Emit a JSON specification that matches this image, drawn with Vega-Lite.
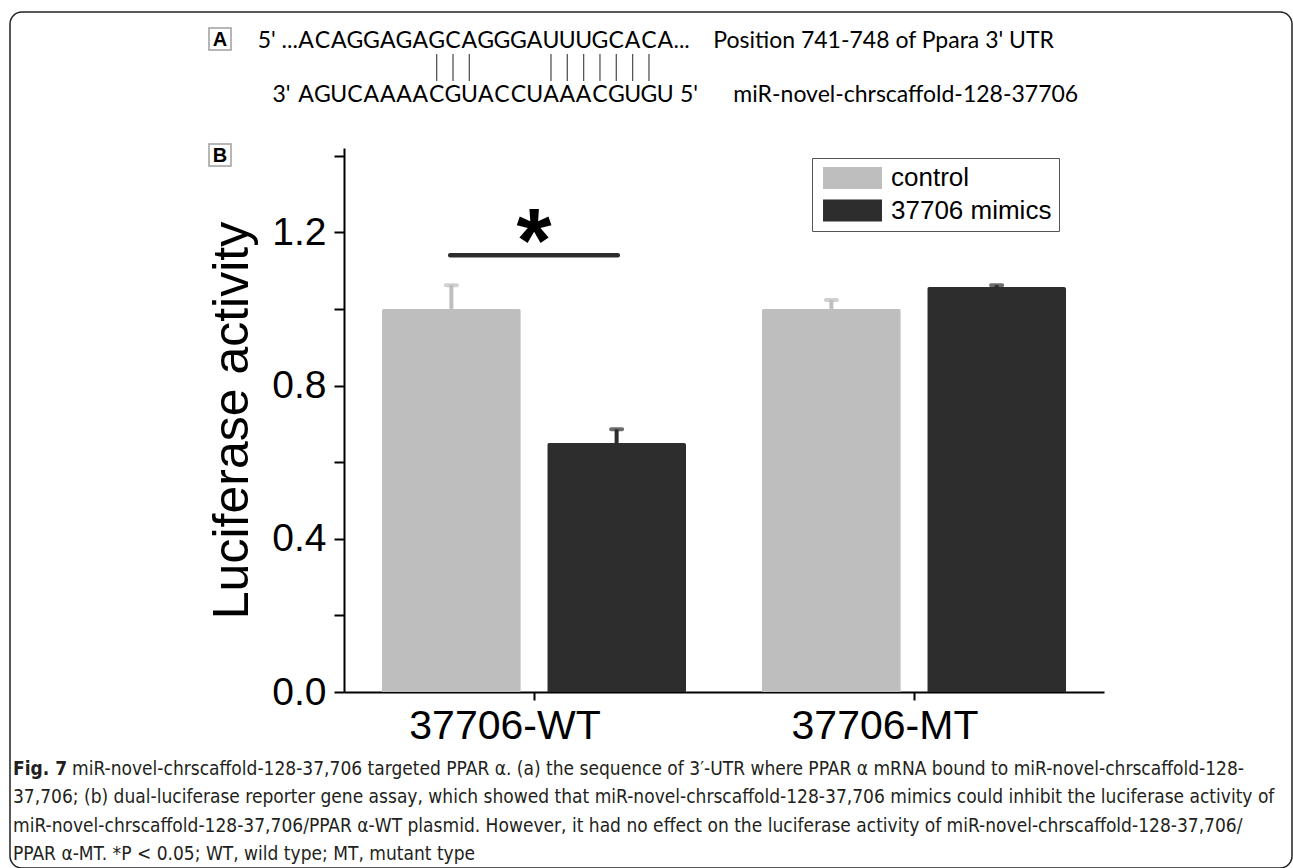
{
  "$schema": "https://vega.github.io/schema/vega-lite/v6.json",
  "background": "white",
  "padding": {"left": 9, "top": 11, "right": 0, "bottom": 0},
  "spacing": 0,
  "bounds": "flush",
  "config": {"view": {"stroke": null}, "font": "Liberation Sans"},
  "datasets": {
    "seq": [
      {"row": 1, "pos": 1, "base": "A"}, {"row": 1, "pos": 2, "base": "C"}, {"row": 1, "pos": 3, "base": "A"}, {"row": 1, "pos": 4, "base": "G"},
      {"row": 1, "pos": 5, "base": "G"}, {"row": 1, "pos": 6, "base": "A"}, {"row": 1, "pos": 7, "base": "G"}, {"row": 1, "pos": 8, "base": "A"},
      {"row": 1, "pos": 9, "base": "G"}, {"row": 1, "pos": 10, "base": "C"}, {"row": 1, "pos": 11, "base": "A"}, {"row": 1, "pos": 12, "base": "G"},
      {"row": 1, "pos": 13, "base": "G"}, {"row": 1, "pos": 14, "base": "G"}, {"row": 1, "pos": 15, "base": "A"}, {"row": 1, "pos": 16, "base": "U"},
      {"row": 1, "pos": 17, "base": "U"}, {"row": 1, "pos": 18, "base": "U"}, {"row": 1, "pos": 19, "base": "G"}, {"row": 1, "pos": 20, "base": "C"},
      {"row": 1, "pos": 21, "base": "A"}, {"row": 1, "pos": 22, "base": "C"}, {"row": 1, "pos": 23, "base": "A"},
      {"row": 3, "pos": 1, "base": "A"}, {"row": 3, "pos": 2, "base": "G"}, {"row": 3, "pos": 3, "base": "U"}, {"row": 3, "pos": 4, "base": "C"},
      {"row": 3, "pos": 5, "base": "A"}, {"row": 3, "pos": 6, "base": "A"}, {"row": 3, "pos": 7, "base": "A"}, {"row": 3, "pos": 8, "base": "A"},
      {"row": 3, "pos": 9, "base": "C"}, {"row": 3, "pos": 10, "base": "G"}, {"row": 3, "pos": 11, "base": "U"}, {"row": 3, "pos": 12, "base": "A"},
      {"row": 3, "pos": 13, "base": "C"}, {"row": 3, "pos": 14, "base": "C"}, {"row": 3, "pos": 15, "base": "U"}, {"row": 3, "pos": 16, "base": "A"},
      {"row": 3, "pos": 17, "base": "A"}, {"row": 3, "pos": 18, "base": "A"}, {"row": 3, "pos": 19, "base": "C"}, {"row": 3, "pos": 20, "base": "G"},
      {"row": 3, "pos": 21, "base": "U"}, {"row": 3, "pos": 22, "base": "G"}, {"row": 3, "pos": 23, "base": "U"}
    ],
    "flank": [
      {"row": 1, "side": "left", "text": "5' ..."},
      {"row": 1, "side": "right", "text": "...\u00a0\u00a0\u00a0\u00a0Position 741-748 of Ppara 3' UTR"},
      {"row": 3, "side": "left", "text": "3'"},
      {"row": 3, "side": "right", "text": "5'\u00a0\u00a0\u00a0\u00a0\u00a0\u00a0miR-novel-chrscaffold-128-37706"}
    ],
    "pairs": [
      {"pos": 9}, {"pos": 10}, {"pos": 11}, {"pos": 16}, {"pos": 17}, {"pos": 18}, {"pos": 19}, {"pos": 20}, {"pos": 21}, {"pos": 22}
    ],
    "bars": [
      {"group": "37706-WT", "treatment": "control", "value": 1.0, "upper": 1.062},
      {"group": "37706-WT", "treatment": "37706 mimics", "value": 0.65, "upper": 0.686},
      {"group": "37706-MT", "treatment": "control", "value": 1.0, "upper": 1.023},
      {"group": "37706-MT", "treatment": "37706 mimics", "value": 1.057, "upper": 1.062}
    ],
    "sig": [
      {"group": "37706-WT", "y": 1.14, "label": "*"}
    ],
    "caption": [
      {"line": 1, "lead": "Fig. 7", "text": "miR-novel-chrscaffold-128-37,706 targeted PPAR α. (a) the sequence of 3′-UTR where PPAR α mRNA bound to miR-novel-chrscaffold-128-"},
      {"line": 2, "text": "37,706; (b) dual-luciferase reporter gene assay, which showed that miR-novel-chrscaffold-128-37,706 mimics could inhibit the luciferase activity of"},
      {"line": 3, "text": "miR-novel-chrscaffold-128-37,706/PPAR α-WT plasmid. However, it had no effect on the luciferase activity of miR-novel-chrscaffold-128-37,706/"},
      {"line": 4, "text": "PPAR α-MT. *P < 0.05; WT, wild type; MT, mutant type"}
    ]
  },
  "vconcat": [
    {
      "hconcat": [
        {
          "width": 1282,
          "height": 856,
          "view": {"stroke": "#222222", "strokeWidth": 1.5, "cornerRadius": 12},
          "data": {"values": [{}]},
          "mark": {"type": "text"},
          "encoding": {"text": {"value": ""}}
        }
      ],
      "bounds": "flush"
    },
    {
      "width": 1270,
      "height": 136,
      "layer": [
        {
          "data": {"name": "seq"},
          "mark": {"type": "text", "font": "Lato", "fontSize": 23, "baseline": "middle", "align": "center", "color": "black", "clip": false},
          "encoding": {
            "x": {"field": "pos", "type": "quantitative", "scale": {"domain": [-17.128, 60.643], "nice": false, "zero": false}, "axis": null},
            "y": {"field": "row", "type": "quantitative", "scale": {"domain": [-0.0556, 4.9815], "nice": false, "zero": false, "reverse": true}, "axis": null},
            "text": {"field": "base"}
          }
        },
        {
          "data": {"name": "flank"},
          "transform": [{"filter": "datum.side == 'left' && datum.row == 1"}],
          "mark": {"type": "text", "font": "Lato", "fontSize": 23, "baseline": "middle", "align": "right", "color": "black", "clip": false},
          "encoding": {
            "x": {"datum": 0.5, "type": "quantitative"},
            "y": {"field": "row", "type": "quantitative"},
            "text": {"field": "text"}
          }
        },
        {
          "data": {"name": "flank"},
          "transform": [{"filter": "datum.side == 'left' && datum.row == 3"}],
          "mark": {"type": "text", "font": "Lato", "fontSize": 23, "baseline": "middle", "align": "right", "color": "black", "clip": false},
          "encoding": {
            "x": {"datum": 0.05, "type": "quantitative"},
            "y": {"field": "row", "type": "quantitative"},
            "text": {"field": "text"}
          }
        },
        {
          "data": {"name": "flank"},
          "transform": [{"filter": "datum.side == 'right' && datum.row == 1"}],
          "mark": {"type": "text", "font": "Lato", "fontSize": 23, "baseline": "middle", "align": "left", "color": "black", "clip": false},
          "encoding": {
            "x": {"datum": 23.5, "type": "quantitative"},
            "y": {"field": "row", "type": "quantitative"},
            "text": {"field": "text"}
          }
        },
        {
          "data": {"name": "flank"},
          "transform": [{"filter": "datum.side == 'right' && datum.row == 3"}],
          "mark": {"type": "text", "font": "Lato", "fontSize": 23, "baseline": "middle", "align": "left", "color": "black", "clip": false},
          "encoding": {
            "x": {"datum": 23.9, "type": "quantitative"},
            "y": {"field": "row", "type": "quantitative"},
            "text": {"field": "text"}
          }
        },
        {
          "data": {"name": "pairs"},
          "mark": {"type": "rule", "color": "#555555", "strokeWidth": 1.3, "clip": false},
          "encoding": {
            "x": {"field": "pos", "type": "quantitative"},
            "y": {"datum": 1.5, "type": "quantitative"},
            "y2": {"datum": 2.5}
          }
        },
        {
          "data": {"values": [{"panel": "A", "row": 0.944}, {"panel": "B", "row": 5.24}]},
          "mark": {"type": "point", "shape": "square", "size": 484, "filled": false, "stroke": "#777777", "strokeWidth": 1.5, "clip": false},
          "encoding": {
            "x": {"datum": -4.268, "type": "quantitative"},
            "y": {"field": "row", "type": "quantitative"}
          }
        },
        {
          "data": {"values": [{"panel": "A", "row": 0.944}, {"panel": "B", "row": 5.24}]},
          "mark": {"type": "text", "font": "Liberation Sans", "fontWeight": "bold", "fontSize": 20, "baseline": "middle", "align": "center", "dy": 1, "color": "black", "clip": false},
          "encoding": {
            "x": {"datum": -4.268, "type": "quantitative"},
            "y": {"field": "row", "type": "quantitative"},
            "text": {"field": "panel"}
          }
        }
      ]
    },
    {
      "hconcat": [
        {
          "width": 334,
          "height": 544,
          "data": {"values": [{}]},
          "mark": {"type": "text"},
          "encoding": {"text": {"value": ""}}
        },
        {
          "width": 760,
          "height": 544,
          "layer": [
            {
              "data": {"name": "bars"},
              "mark": {"type": "bar", "cornerRadiusTopLeft": 2, "cornerRadiusTopRight": 2},
              "encoding": {
                "x": {
                  "field": "group", "type": "nominal", "sort": ["37706-WT", "37706-MT"],
                  "scale": {"domain": ["37706-WT", "37706-MT"], "paddingInner": 0.2, "paddingOuter": 0.1},
                  "axis": {
                    "title": null, "labelAngle": 0, "labelFont": "Liberation Sans", "labelFontSize": 41, "labelColor": "black", "labelLimit": 500, "labelOffset": -29,
                    "labelPadding": 6, "tickSize": 8, "tickWidth": 2, "tickColor": "black", "domainWidth": 2, "domainColor": "black", "grid": false
                  }
                },
                "xOffset": {"field": "treatment", "type": "nominal", "scale": {"domain": ["control", "37706 mimics"], "paddingInner": 0.16, "paddingOuter": 0}},
                "y": {
                  "field": "value", "type": "quantitative",
                  "scale": {"domain": [0, 1.42], "nice": false, "zero": true},
                  "axis": {
                    "title": "Luciferase activity", "titleFont": "Liberation Sans", "titleFontSize": 50, "titleFontWeight": "normal", "titleColor": "black", "titlePadding": 14,
                    "values": [0, 0.2, 0.4, 0.6, 0.8, 1.0, 1.2, 1.4],
                    "labelExpr": "round(datum.value*5) % 2 == 0 ? format(datum.value, '.1f') : ''",
                    "labelFont": "Liberation Sans", "labelFontSize": 39, "labelColor": "black", "labelPadding": 8,
                    "tickSize": 10, "tickWidth": 2, "tickColor": "black", "domainWidth": 2, "domainColor": "black", "grid": false,
                    "encode": {"ticks": {"update": {"x2": {"signal": "round(datum.value*5) % 2 == 0 ? -10 : -6.5"}}}}
                  }
                },
                "color": {
                  "field": "treatment", "type": "nominal",
                  "scale": {"domain": ["control", "37706 mimics"], "range": ["#bebebe", "#2d2d2d"]},
                  "legend": {
                    "orient": "none", "legendX": 802, "legendY": 146, "title": null,
                    "symbolType": "M-2.68,-1H2.68V1H-2.68Z", "symbolSize": 484, "symbolStrokeWidth": 0, "symbolOpacity": 1, "symbolOffset": 20.5,
                    "labelFont": "Liberation Sans", "labelFontSize": 26, "labelColor": "black", "labelOffset": 25.5, "labelLimit": 400,
                    "strokeColor": "#555555", "fillColor": "white", "padding": 7, "rowPadding": 6.5
                  }
                }
              }
            },
            {
              "data": {"name": "bars"},
              "mark": {"type": "rule", "strokeWidth": 4},
              "encoding": {
                "x": {"field": "group", "type": "nominal"},
                "xOffset": {"field": "treatment", "type": "nominal"},
                "y": {"field": "value", "type": "quantitative"},
                "y2": {"field": "upper"},
                "stroke": {"field": "treatment", "type": "nominal", "scale": {"domain": ["control", "37706 mimics"], "range": ["#bebebe", "#2d2d2d"]}, "legend": null}
              }
            },
            {
              "data": {"name": "bars"},
              "mark": {"type": "tick", "size": 15, "thickness": 4, "cornerRadius": 2},
              "encoding": {
                "x": {"field": "group", "type": "nominal"},
                "xOffset": {"field": "treatment", "type": "nominal"},
                "y": {"field": "upper", "type": "quantitative"},
                "fill": {"field": "treatment", "type": "nominal", "scale": {"domain": ["control", "37706 mimics"], "range": ["#bebebe", "#2d2d2d"]}, "legend": null}
              }
            },
            {
              "data": {"name": "sig"},
              "mark": {"type": "tick", "size": 172, "thickness": 4.5, "cornerRadius": 2, "color": "#2d2d2d", "opacity": 1},
              "encoding": {
                "x": {"field": "group", "type": "nominal"},
                "y": {"field": "y", "type": "quantitative"}
              }
            },
            {
              "data": {"name": "sig"},
              "mark": {"type": "text", "font": "Liberation Sans", "fontWeight": "bold", "fontSize": 90, "baseline": "alphabetic", "align": "center", "dy": 17, "color": "black"},
              "encoding": {
                "x": {"field": "group", "type": "nominal"},
                "y": {"field": "y", "type": "quantitative"},
                "text": {"field": "label"}
              }
            }
          ]
        }
      ],
      "spacing": 0,
      "bounds": "flush"
    },
    {
      "width": 1270,
      "height": 721,
      "data": {"name": "caption"},
      "layer": [
        {
          "transform": [{"filter": "datum.line == 1"}],
          "mark": {"type": "text", "font": "Liberation Sans Narrow, DejaVu Sans Condensed, sans-serif", "fontSize": 19, "fontWeight": "bold", "baseline": "middle", "align": "left", "color": "#231f20", "clip": false},
          "encoding": {
            "x": {"value": 3},
            "y": {"field": "line", "type": "quantitative", "scale": {"domain": [-20.789, 4.509], "nice": false, "zero": false, "reverse": true}, "axis": null},
            "text": {"field": "lead"}
          }
        },
        {
          "transform": [{"filter": "datum.line == 1"}],
          "mark": {"type": "text", "font": "Liberation Sans Narrow, DejaVu Sans Condensed, sans-serif", "fontSize": 19, "baseline": "middle", "align": "left", "dx": 59, "color": "#231f20", "clip": false},
          "encoding": {
            "x": {"value": 3},
            "y": {"field": "line", "type": "quantitative"},
            "text": {"field": "text"}
          }
        },
        {
          "transform": [{"filter": "datum.line > 1"}],
          "mark": {"type": "text", "font": "Liberation Sans Narrow, DejaVu Sans Condensed, sans-serif", "fontSize": 19, "baseline": "middle", "align": "left", "color": "#231f20", "clip": false},
          "encoding": {
            "x": {"value": 3},
            "y": {"field": "line", "type": "quantitative"},
            "text": {"field": "text"}
          }
        }
      ]
    }
  ]
}
